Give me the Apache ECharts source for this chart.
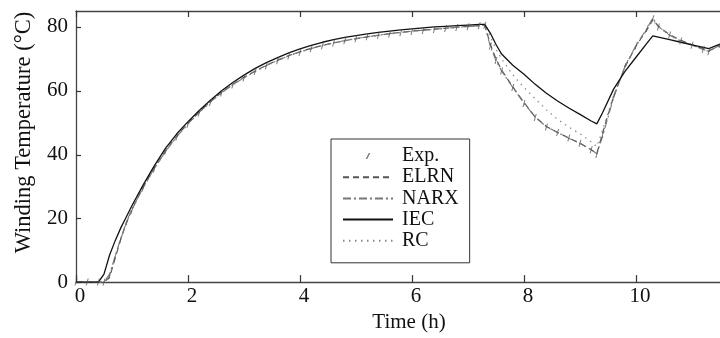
<!DOCTYPE html>
<html>
<head>
<meta charset="utf-8">
<script src="https://cdn.jsdelivr.net/npm/echarts@6/dist/echarts.min.js"></script>
<style>
  html, body { margin: 0; padding: 0; background: #fff; }
  #chart { width: 720px; height: 338px; }
</style>
</head>
<body>
<div id="chart"></div>
<script>
// time (h)
const hours = [
  0, 0.2, 0.4,
  0.5, 0.6, 0.7, 0.8, 0.9, 1.0,
  1.2, 1.4, 1.6, 1.8, 2.0, 2.2, 2.4, 2.6, 2.8, 3.0,
  3.2, 3.4, 3.6, 3.8, 4.0, 4.2, 4.4, 4.6, 4.8, 5.0,
  5.2, 5.4, 5.6, 5.8, 6.0, 6.2, 6.4, 6.6, 6.8, 7.0,
  7.2, 7.3, 7.4, 7.5, 7.6,
  7.8, 8.0, 8.2, 8.4, 8.6, 8.8, 9.0, 9.2,
  9.3, 9.4, 9.6, 9.8, 10.0, 10.2, 10.3,
  10.4, 10.6, 10.8, 11.0, 11.2, 11.3, 11.5
];

const expTemp = [
  0, 0, 0,
  0, 2, 8, 13.5, 18.5, 22.5,
  29.5, 35.5, 41, 45.5, 49.5, 53, 56.3, 59.3, 61.8, 64,
  66, 67.8, 69.4, 70.9, 72.1, 73.2, 74.1, 75, 75.7, 76.3,
  76.9, 77.4, 77.8, 78.2, 78.6, 78.9, 79.2, 79.5, 79.8, 80.1,
  80.4, 80.5, 74, 69.5, 66.2,
  61, 56, 51.6, 48.6, 46.9, 45.2, 43.5, 41.5,
  40, 46, 58, 67.5, 74, 79.5, 82.6,
  80, 77.5, 75.6, 74.3, 73, 72.2, 74.5
];

const elrnTemp = [
  0, 0, 0,
  0, 1.5, 7.5, 13.5, 18.5, 22.8,
  29.8, 35.8, 41.2, 45.8, 49.8, 53.3, 56.6, 59.5, 62, 64.2,
  66.2, 68, 69.6, 71, 72.2, 73.3, 74.2, 75, 75.7, 76.3,
  76.9, 77.4, 77.9, 78.3, 78.7, 79, 79.3, 79.6, 79.9, 80.2,
  80.4, 80.5, 74.5, 70, 66.5,
  61.2, 56.3, 51.8, 48.8, 46.9, 45.2, 43.5, 41.5,
  40.3, 46.5, 58.2, 67.3, 74, 79.3, 82.3,
  80.2, 77.6, 75.8, 74.4, 73.2, 72.5, 74.2
];

const narxTemp = [
  0, 0, 0,
  0, 2.5, 8.2, 13.8, 18.8, 23,
  29.7, 35.7, 41, 45.6, 49.7, 53.2, 56.5, 59.4, 61.9, 64.1,
  66.1, 67.9, 69.5, 71, 72.2, 73.2, 74.2, 75, 75.7, 76.4,
  76.9, 77.4, 77.9, 78.3, 78.6, 79, 79.3, 79.6, 79.9, 80.1,
  80.4, 80.5, 73.8, 69.4, 66.2,
  61, 56.1, 51.7, 48.7, 46.9, 45.1, 43.5, 41.6,
  40.2, 45.5, 57.8, 67.6, 74.2, 79.7, 82.8,
  80.1, 77.4, 75.6, 74.3, 72.9, 72.3, 74.4
];

const iecTemp = [
  0, 0, 0,
  2.5, 8.5, 13, 17, 20.5, 24,
  30.5, 36.5, 42, 46.5, 50.3, 53.8, 57, 60, 62.6, 64.9,
  67, 68.8, 70.4, 71.9, 73.1, 74.2, 75.2, 76, 76.7, 77.3,
  77.8, 78.3, 78.7, 79.1, 79.4, 79.7, 80, 80.2, 80.4, 80.6,
  80.8, 80.8, 78, 74.5, 71.5,
  68, 65.2, 62, 59.2, 56.8, 54.6, 52.6, 50.5,
  49.6, 53, 60.5, 66, 70.5, 75, 77.2,
  76.8, 76, 75.2, 74.4, 73.6, 73.2, 74.6
];

const rcTemp = [
  0, 0, 0,
  0, 2, 8, 13.5, 18.5, 22.6,
  29.6, 35.6, 41, 45.6, 49.6, 53.1, 56.4, 59.3, 61.8, 64,
  66, 67.8, 69.4, 70.9, 72.1, 73.2, 74.1, 75, 75.7, 76.3,
  76.9, 77.4, 77.8, 78.2, 78.6, 78.9, 79.2, 79.5, 79.8, 80.1,
  80.4, 80.5, 77, 73, 70,
  65, 61, 57.5, 54, 51, 48.6, 46.5, 44,
  42.5, 47.5, 58.5, 67.5, 74, 79.3, 82,
  80, 77.4, 75.5, 74.3, 73, 72.3, 74.4
];

const seriesNames = ["Exp.", "ELRN", "NARX", "IEC", "RC"];
const xTicks = [0, 2, 4, 6, 8, 10];
const yTicks = [0, 20, 40, 60, 80];

const font = "Liberation Serif";
const axisColor = "#444";
const txt = { fontFamily: font, fontSize: 21, color: "#111" };

function pairs(vals) {
  return hours.map((t, i) => [t, vals[i]]);
}

const chart = echarts.init(document.getElementById("chart"));

// line entries get no marker in the legend
const legendData = seriesNames.map((n) =>
  n === "Exp." ? { name: n } : { name: n, itemStyle: { opacity: 0 } }
);

const option = {
  animation: false,
  backgroundColor: "#fff",
  textStyle: { fontFamily: font },
  grid: { left: 76, right: 0, top: 11, bottom: 54 },

  legend: {
    data: legendData,
    orient: "vertical",
    left: 331,
    top: 139,
    padding: [7, 11, 12, 11],
    itemGap: 1.2,
    itemWidth: 50,
    itemHeight: 6,
    borderColor: "#333",
    borderWidth: 1,
    backgroundColor: "#fff",
    selectedMode: false,
    textStyle: Object.assign({ padding: [0, 0, 0, 4] }, txt, { fontSize: 20 })
  },

  xAxis: [
    {
      type: "value",
      min: 0,
      max: 11.5,
      interval: 2,
      name: "Time (h)",
      nameLocation: "middle",
      nameGap: 27,
      nameTextStyle: Object.assign({ padding: [0, 0, 0, 22] }, txt),
      axisLine: { show: true, onZero: false, lineStyle: { color: axisColor, width: 1.3 } },
      axisTick: { show: false },
      axisLabel: Object.assign({ margin: 4, showMaxLabel: false, padding: [0, 0, 0, 8] }, txt),
      splitLine: { show: false }
    },
    {
      type: "value",
      position: "top",
      min: 0,
      max: 11.5,
      interval: 2,
      axisLine: { show: true, onZero: false, lineStyle: { color: axisColor, width: 1.3 } },
      axisTick: { show: false },
      axisLabel: { show: false },
      splitLine: { show: false }
    }
  ],

  yAxis: {
    type: "value",
    min: 0,
    max: 85,
    interval: 20,
    name: "Winding Temperature (°C)",
    nameLocation: "middle",
    nameGap: 40,
    nameTextStyle: Object.assign({}, txt, { fontSize: 22.5, padding: [0, 0, 0, 28] }),
    axisLine: { show: true, onZero: false, lineStyle: { color: axisColor, width: 1.3 } },
    axisTick: { show: false },
    axisLabel: Object.assign({ margin: 8, showMaxLabel: false }, txt),
    splitLine: { show: false }
  },

  series: [
    {
      name: "ELRN",
      type: "line",
      data: pairs(elrnTemp),
      symbol: "none",
      lineStyle: { color: "#555", width: 1.2, type: [6, 4] },
      itemStyle: { color: "#555" },
      z: 3
    },
    {
      name: "NARX",
      type: "line",
      data: pairs(narxTemp),
      symbol: "none",
      lineStyle: { color: "#777", width: 1.1, type: [8, 3, 2, 3] },
      itemStyle: { color: "#777" },
      z: 3
    },
    {
      name: "IEC",
      type: "line",
      data: pairs(iecTemp),
      symbol: "none",
      lineStyle: { color: "#111", width: 1.3 },
      itemStyle: { color: "#111" },
      z: 4
    },
    {
      name: "RC",
      type: "line",
      data: pairs(rcTemp),
      symbol: "none",
      lineStyle: { color: "#888", width: 1.2, type: [1.5, 4.5] },
      itemStyle: { color: "#888" },
      z: 3
    },
    {
      name: "Exp.",
      type: "scatter",
      data: pairs(expTemp),
      symbol: "path://M4,0L6,0L2,8L0,8Z",
      symbolSize: [4, 7],
      symbolKeepAspect: true,
      itemStyle: { color: "#555" },
      z: 5
    }
  ]
};

chart.setOption(option);

// inward ticks, placed through the axes' own scales
const yBottom = chart.convertToPixel({ yAxisIndex: 0 }, 0);
const yTop = chart.convertToPixel({ yAxisIndex: 0 }, 85);
const xLeft = chart.convertToPixel({ xAxisIndex: 0 }, 0);
const tickStyle = { stroke: "#333", lineWidth: 1.2 };
const tickMarks = [];
xTicks.forEach((v) => {
  const x = Math.round(chart.convertToPixel({ xAxisIndex: 0 }, v)) + 0.5;
  tickMarks.push({ type: "line", silent: true, z: 10, shape: { x1: x, y1: yBottom, x2: x, y2: yBottom - 7 }, style: tickStyle });
  tickMarks.push({ type: "line", silent: true, z: 10, shape: { x1: x, y1: yTop, x2: x, y2: yTop + 6 }, style: tickStyle });
});
yTicks.forEach((v) => {
  const y = Math.round(chart.convertToPixel({ yAxisIndex: 0 }, v)) + 0.5;
  tickMarks.push({ type: "line", silent: true, z: 10, shape: { x1: xLeft, y1: y, x2: xLeft + 5, y2: y }, style: tickStyle });
});
chart.setOption({ graphic: tickMarks });
</script>
</body>
</html>
